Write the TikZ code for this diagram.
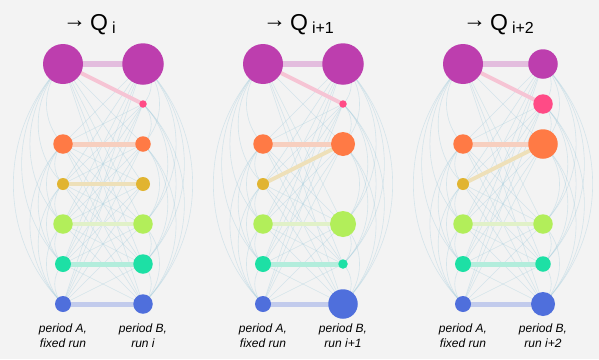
\documentclass[tikz,border=0pt]{standalone}
\usepackage{fontspec}
\setmainfont{Liberation Sans}
\pgfdeclarelayer{back}
\pgfdeclarelayer{bg}
\pgfdeclarelayer{mid}
\pgfsetlayers{back,bg,mid,main}
\definecolor{cBack}{HTML}{F3F3F3}
\definecolor{cMag}{HTML}{BD3EAE}
\definecolor{cPink}{HTML}{FF4B86}
\definecolor{cOra}{HTML}{FF7A45}
\definecolor{cYel}{HTML}{E1B431}
\definecolor{cGrn}{HTML}{B2EE5A}
\definecolor{cTeal}{HTML}{1DE0A5}
\definecolor{cBlu}{HTML}{4F6FDC}
\definecolor{cFaint}{HTML}{9FCBDC}
\begin{document}
\begin{tikzpicture}[x=1pt,y=-1pt,
  dot/.style={circle,inner sep=0pt,draw=none},
  faint/.style={draw=cFaint,line width=0.6pt,opacity=0.37},
  link/.style={line width=#1},
  ttl/.style={anchor=base west,inner sep=0pt,font=\fontsize{23}{23}\selectfont},
  lbl/.style={anchor=base,align=center,inner sep=0pt,font=\itshape\fontsize{12}{14.5}\selectfont}]
\begin{pgfonlayer}{back}
\fill[cBack] (0,0) rectangle (599,359);
\end{pgfonlayer}
\useasboundingbox (0,0) rectangle (599,359);
% left columns (identical in all panels)
\foreach \p/\ox in {1/0,2/200,3/400}{
  \node[dot,fill=cMag,minimum size=40] (P\p aM) at (\ox+63,64) {};
  \node[dot,fill=cOra,minimum size=19.5] (P\p aO) at (\ox+63,144) {};
  \node[dot,fill=cYel,minimum size=12] (P\p aY) at (\ox+63,184) {};
  \node[dot,fill=cGrn,minimum size=19.5] (P\p aG) at (\ox+63,224) {};
  \node[dot,fill=cTeal,minimum size=16] (P\p aT) at (\ox+63,264) {};
  \node[dot,fill=cBlu,minimum size=16] (P\p aB) at (\ox+63,304) {};
}
% right column, panel 1
\node[dot,fill=cMag,minimum size=41.5] (P1bM) at (143,64) {};
\node[dot,fill=cPink,minimum size=7.5] (P1bP) at (143,104) {};
\node[dot,fill=cOra,minimum size=15.5] (P1bO) at (143,144) {};
\node[dot,fill=cYel,minimum size=14] (P1bY) at (143,184) {};
\node[dot,fill=cGrn,minimum size=19.5] (P1bG) at (143,224) {};
\node[dot,fill=cTeal,minimum size=19.5] (P1bT) at (143,264) {};
\node[dot,fill=cBlu,minimum size=19.5] (P1bB) at (143,304) {};
% right column, panel 2
\node[dot,fill=cMag,minimum size=41.5] (P2bM) at (343,64) {};
\node[dot,fill=cPink,minimum size=7.5] (P2bP) at (343,104) {};
\node[dot,fill=cOra,minimum size=24] (P2bO) at (343,144) {};
\node[dot,fill=cGrn,minimum size=26] (P2bG) at (343,224) {};
\node[dot,fill=cTeal,minimum size=9.5] (P2bT) at (343,264) {};
\node[dot,fill=cBlu,minimum size=29.5] (P2bB) at (343,304) {};
% right column, panel 3
\node[dot,fill=cMag,minimum size=29.5] (P3bM) at (543,64) {};
\node[dot,fill=cPink,minimum size=19.5] (P3bP) at (543,104) {};
\node[dot,fill=cOra,minimum size=29.5] (P3bO) at (543,144) {};
\node[dot,fill=cGrn,minimum size=19.5] (P3bG) at (543,224) {};
\node[dot,fill=cTeal,minimum size=15.5] (P3bT) at (543,264) {};
\node[dot,fill=cBlu,minimum size=24] (P3bB) at (543,304) {};
% faint background network
\begin{pgfonlayer}{bg}
\foreach \p/\rl in {1/{bM,bP,bO,bY,bG,bT,bB},2/{bM,bP,bO,bG,bT,bB},3/{bM,bP,bO,bG,bT,bB}}{
  \foreach \a in {aM,aO,aY,aG,aT,aB}{
    \foreach \b in \rl{
      \draw[faint] (P\p\a.center) -- (P\p\b.center);
    }
  }
  \foreach \a/\c in {aM/aO,aM/aY,aM/aG,aM/aT,aM/aB,aO/aY,aO/aG,aO/aT,aO/aB,aY/aG,aY/aT,aY/aB,aG/aT,aG/aB,aT/aB}{
    \draw[faint] (P\p\a.center) to[bend right=45] (P\p\c.center);
  }
  \foreach \a/\c in {bM/bP,bM/bO,bM/bG,bM/bT,bM/bB,bP/bO,bP/bG,bP/bT,bP/bB,bO/bG,bO/bT,bO/bB,bG/bT,bG/bB,bT/bB}{
    \draw[faint] (P\p\a.center) to[bend left=45] (P\p\c.center);
  }
}
\end{pgfonlayer}
% coloured links
\begin{pgfonlayer}{mid}
\foreach \p in {1,2,3}{
  \draw[link=6pt,cMag!30!cBack] (P\p aM.center) -- (P\p bM.center);
  \draw[link=4pt,cPink!28!cBack] (P\p aM.center) -- (P\p bP.center);
  \draw[link=5pt,cOra!30!cBack] (P\p aO.center) -- (P\p bO.center);
  \draw[link=4pt,cGrn!28!cBack] (P\p aG.center) -- (P\p bG.center);
  \draw[link=5pt,cTeal!30!cBack] (P\p aT.center) -- (P\p bT.center);
  \draw[link=5pt,cBlu!30!cBack] (P\p aB.center) -- (P\p bB.center);
}
\draw[link=4pt,cYel!30!cBack] (P1aY.center) -- (P1bY.center);
\draw[link=4pt,cYel!30!cBack] (P2aY.center) -- (P2bO.center);
\draw[link=4pt,cYel!30!cBack] (P3aY.center) -- (P3bO.center);
\end{pgfonlayer}
% titles
\node[ttl] (T1) at (63,30) {\raisebox{3pt}{→}\hspace{4pt}Q\raisebox{-3pt}{\fontsize{16}{16}\selectfont\hspace{4pt}i}};
\node[ttl] (T2) at (263,30) {\raisebox{3pt}{→}\hspace{4pt}Q\raisebox{-3pt}{\fontsize{16}{16}\selectfont\hspace{4pt}i+1}};
\node[ttl] (T3) at (463,30) {\raisebox{3pt}{→}\hspace{4pt}Q\raisebox{-3pt}{\fontsize{16}{16}\selectfont\hspace{4pt}i+2}};
% labels
\node[lbl] (LA1) at (63,347) {period A,\\fixed run};
\node[lbl] (LB1) at (143,347) {period B,\\run i};
\node[lbl] (LA2) at (263,347) {period A,\\fixed run};
\node[lbl] (LB2) at (343,347) {period B,\\run i+1};
\node[lbl] (LA3) at (463,347) {period A,\\fixed run};
\node[lbl] (LB3) at (543,347) {period B,\\run i+2};
\end{tikzpicture}
\end{document}
